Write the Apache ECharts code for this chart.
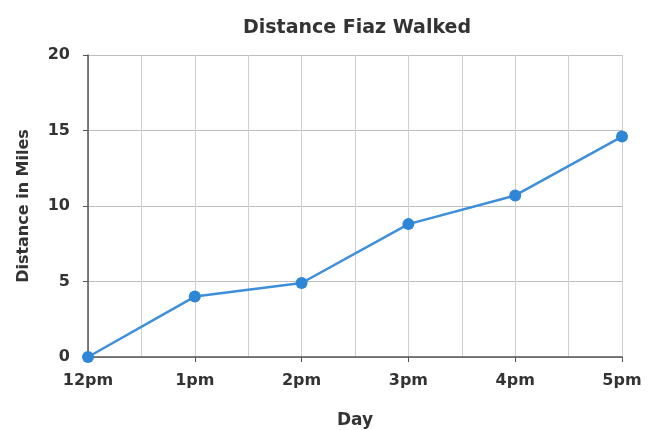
<!DOCTYPE html>
<html><head><meta charset="utf-8">
<script src="https://cdn.jsdelivr.net/npm/echarts@6/dist/echarts.min.js"></script>
<style>html,body{margin:0;padding:0;background:#fff}#c{width:657px;height:430px}</style>
</head><body><div id="c"></div>
<script>
const categories = ['12pm','1pm','2pm','3pm','4pm','5pm'];
const distance = [0, 4, 4.9, 8.8, 10.7, 14.6];
const yTicks = [0, 5, 10, 15, 20];

const chart = echarts.init(document.getElementById('c'));
const font = '"DejaVu Sans", sans-serif';
chart.setOption({
  animation: false,
  title: {text: 'Distance Fiaz Walked', left: 352, top: 14, textAlign: 'center',
    textStyle: {fontFamily: font, fontSize: 19, fontWeight: 'bold', color: '#333'}},
  grid: {left: 88, right: 35, top: 55, bottom: 73, outerBoundsMode: 'none', containLabel: false},
  xAxis: [{
    type: 'category', data: categories, boundaryGap: false,
    name: 'Day', nameLocation: 'middle', nameGap: 55,
    nameTextStyle: {fontFamily: font, fontSize: 17, fontWeight: 'bold', color: '#333'},
    axisLine: {lineStyle: {color: '#555', width: 1.5}},
    axisTick: {show: true, length: 5, lineStyle: {color: '#555'}},
    axisLabel: {fontFamily: font, fontSize: 16, fontWeight: 'bold', color: '#333', margin: 16},
    splitLine: {show: false}
  }, {
    type: 'value', min: 0, max: 5, interval: 0.5, position: 'bottom',
    axisLine: {show: false}, axisTick: {show: false}, axisLabel: {show: false},
    splitLine: {show: true, lineStyle: {color: '#cfcfcf', width: 1}}
  }],
  yAxis: {
    type: 'value', min: yTicks[0], max: yTicks[yTicks.length-1], interval: 5,
    name: 'Distance in Miles', nameLocation: 'middle', nameGap: 56,
    nameTextStyle: {fontFamily: font, fontSize: 16, fontWeight: 'bold', color: '#333'},
    axisLine: {show: true, lineStyle: {color: '#555', width: 1.5}},
    axisTick: {show: true, length: 5, lineStyle: {color: '#555'}},
    axisLabel: {fontFamily: font, fontSize: 16, fontWeight: 'bold', color: '#333', margin: 18},
    splitLine: {show: true, lineStyle: {color: '#bdbdbd', width: 1}}
  },
  series: [{
    type: 'line', data: distance, xAxisIndex: 0,
    symbol: 'circle', symbolSize: 12,
    lineStyle: {color: '#3d8fdb', width: 2.5},
    itemStyle: {color: '#2f86d6'}
  }]
});
</script></body></html>
